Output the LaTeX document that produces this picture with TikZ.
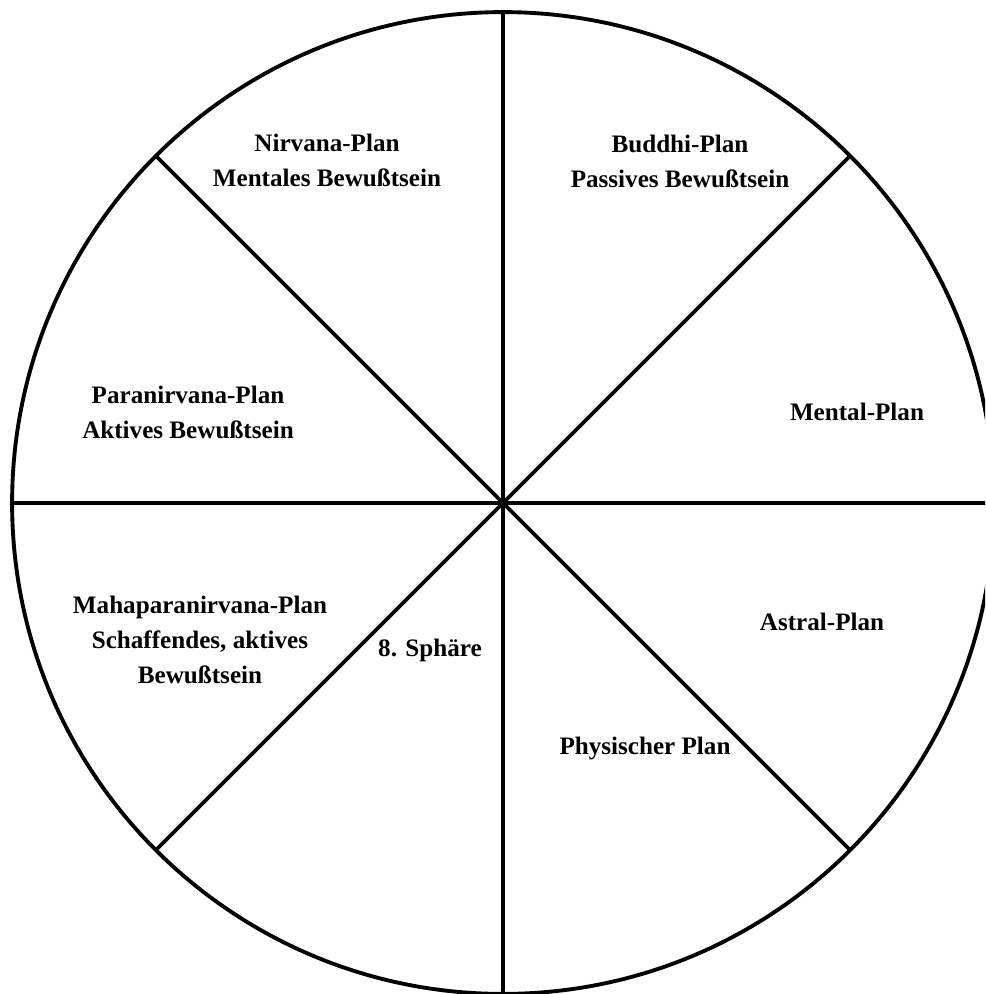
\documentclass[tikz,border=0pt]{standalone}
\usepackage{fontspec}
\setmainfont{Liberation Serif}
\usetikzlibrary{calc}

\begin{document}
\begin{tikzpicture}[x=0.02cm, y=-0.02cm,
  rim/.style={line width=2.2pt, black},
  plane/.style={font=\bfseries\fontsize{14.3}{19.9}\selectfont, align=center, inner sep=0pt}]
  \useasboundingbox (0,0) rectangle (985,994);
  \clip (0,0) rectangle (985,994);

  % Wheel of planes
  \coordinate (c) at (503,503);
  \draw[rim] (c) circle[radius=9.82cm];
  \foreach \a in {0,45,...,315}
    \draw[rim] (c) -- ($(c)+(\a:9.82cm)$);

  % Upper half
  \node[plane] (nirvana) at (327,160) {Nirvana-Plan\\Mentales Bewußtsein};
  \node[plane] (buddhi) at (680,161) {Buddhi-Plan\\Passives Bewußtsein};
  \node[plane] (mental) at (857,412) {Mental-Plan};
  \node[plane] (paranirvana) at (188,412) {Paranirvana-Plan\\Aktives Bewußtsein};

  % Lower half
  \node[plane] (mahapara) at (200,640) {Mahaparanirvana-Plan\\Schaffendes, aktives\\Bewußtsein};
  \node[plane] (sphaere) at (430,650) {8. Sphäre};
  \node[plane] (astral) at (822,622) {Astral-Plan};
  \node[plane] (physisch) at (645,748) {Physischer Plan};
\end{tikzpicture}
\end{document}
